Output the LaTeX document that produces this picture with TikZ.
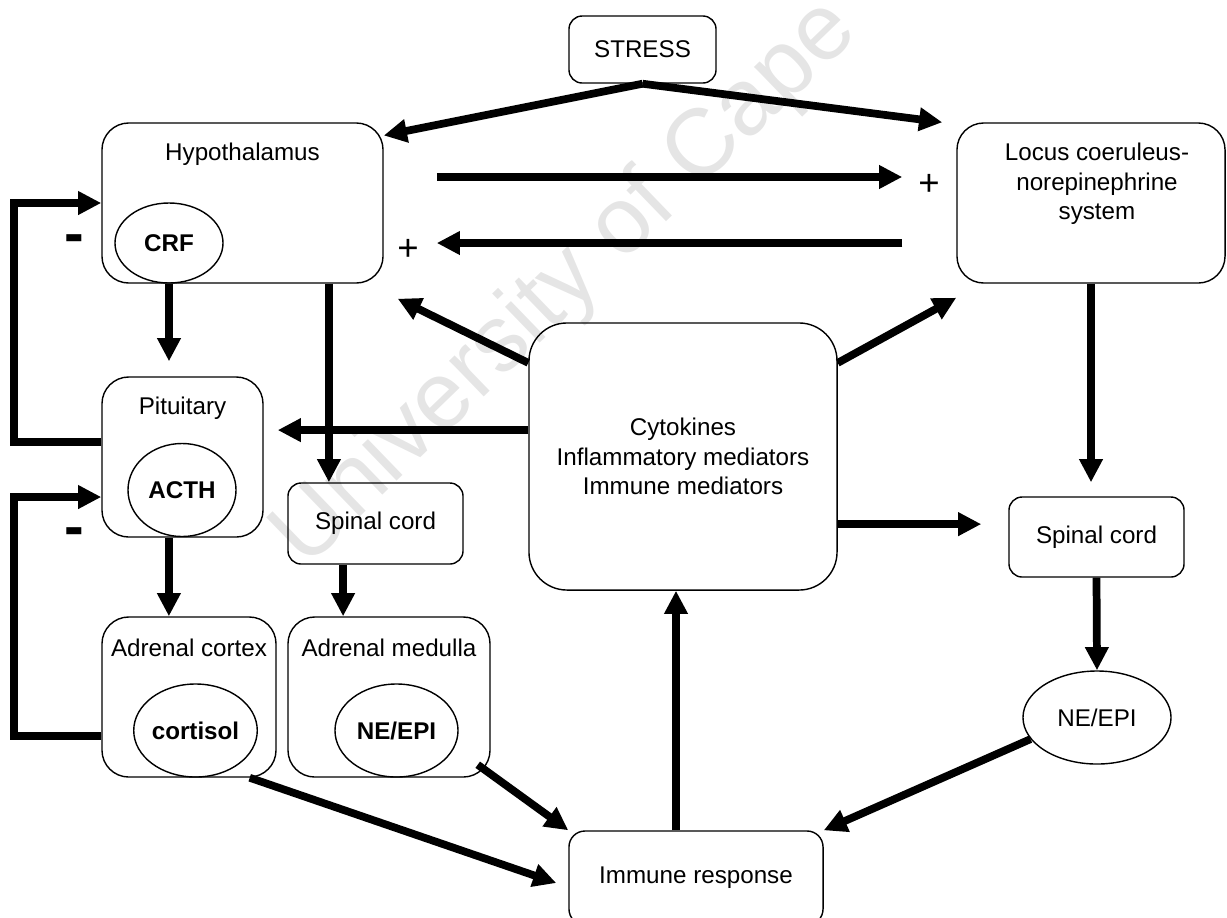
\documentclass[tikz,border=0pt]{standalone}
\usepackage{fontspec}
\setmainfont{Liberation Sans}
\usetikzlibrary{arrows.meta,positioning,shapes.geometric}

\begin{document}
\begin{tikzpicture}[->,>={Triangle[length=0.58cm,width=0.56cm]},line width=5.5pt,
                    x=0.025cm,y=-0.025cm,font=\fontsize{17.2}{21}\selectfont]
  \tikzstyle{box}=[draw,line width=1pt,rounded corners=0.67cm,align=center]
  \tikzstyle{small box}=[box,rounded corners=0.33cm]
  \tikzstyle{blob}=[draw,ellipse,line width=1pt,inner sep=0pt]
  \tikzstyle{hormone}=[blob,font=\fontsize{17.2}{21}\selectfont\bfseries]
  \tikzstyle{plus}=[inner sep=0pt,font=\fontsize{26}{26}\selectfont]
  \tikzstyle{minus}=[inner sep=0pt,font=\fontsize{42}{42}\selectfont\bfseries]

  \useasboundingbox (0,0) rectangle (1227,917);
  \clip (0,0) rectangle (1227,917);

  \node[anchor=base west,rotate=44,text=black!10,font=\fontsize{67}{70}\selectfont]
    (W) at (300,575) {University of Cape};

  % brain
  \node[small box,minimum width=3.675cm,minimum height=1.675cm] (S) at (642.5,49.5) {STRESS};
  \node[box,minimum width=7.025cm,minimum height=4cm] (H) at (242.5,203) {};
  \node at ([yshift=-0.8cm]H.north) {Hypothalamus};
  \node[hormone,minimum width=2.7cm,minimum height=2cm] (CRF) at (169,243) {CRF};
  \node[box,minimum width=6.7cm,minimum height=4cm] (LC) at (1091,203) {};
  \node[align=center] at ([shift={(0.15cm,0.475cm)}]LC.center)
    {Locus coeruleus-\\norepinephrine\\system};

  % HPA side
  \node[box,minimum width=4.025cm,minimum height=4cm] (P) at (182.5,457) {};
  \node at ([yshift=-0.8cm]P.north) {Pituitary};
  \node[hormone,minimum width=2.7cm,minimum height=2.325cm] (ACTH) at (182,490) {ACTH};
  \node[small box,minimum width=4.375cm,minimum height=2.025cm] (SC1) at (375.5,523.5) {Spinal cord};
  \node[box,minimum width=4.35cm,minimum height=4cm] (AC) at (189,697) {};
  \node at ([yshift=-0.8cm]AC.north) {Adrenal cortex};
  \node[hormone,minimum width=2.675cm,minimum height=2.325cm] (COR) at (195.5,730.5) {cortisol};
  \node[box,minimum width=5.05cm,minimum height=4cm] (AM) at (389,697) {};
  \node at ([yshift=-0.8cm]AM.north) {Adrenal medulla};
  \node[hormone,minimum width=3.075cm,minimum height=2.325cm] (NE1) at (396.5,730.5) {NE/EPI};

  % immune side
  \node[box,rounded corners=0.95cm,minimum width=7.7cm,minimum height=6.675cm] (CY) at (683,456.5)
    {Cytokines\\Inflammatory mediators\\Immune mediators};
  \node[small box,minimum width=4.375cm,minimum height=2cm] (SC2) at (1096.5,537) {Spinal cord};
  \node[blob,minimum width=3.7cm,minimum height=2.325cm] (NE2) at (1097,717.5) {NE/EPI};
  \node[small box,rounded corners=0.4cm,minimum width=6.35cm,minimum height=2.35cm] (IR) at (696,878)
    {Immune response};

  \node[plus] (PL1) at (929,185) {+};
  \node[plus] (PL2) at (408,250) {+};
  \node[minus] (MI1) at (74,244) {-};
  \node[minus] (MI2) at (74,537) {-};

  \draw (S.south) -- ([yshift=-0.33cm]H.north east);
  \draw (S.south) -- ([xshift=-0.35cm]LC.north west);
  \draw[shorten <=1.325cm,shorten >=1.35cm] ([yshift=0.65cm]H.east) -- ([yshift=0.65cm]LC.west);
  \draw[shorten <=1.35cm,shorten >=1.325cm] ([yshift=-1cm]LC.west) -- ([yshift=-1cm]H.east);
  \draw ([yshift=2.34cm]CY.west) -- ([shift={(0.35cm,-0.375cm)}]H.south east);
  \draw ([yshift=2.34cm]CY.east) -- ([yshift=-0.35cm]LC.south west);
  \draw[shorten >=0.35cm] ([yshift=0.66cm]CY.west) -- ([yshift=0.66cm]CY.west -| P.east);

  \draw[shorten >=0.375cm] (CRF.south) -- (CRF.south |- P.north);
  \draw ([xshift=2.16cm]H.south) -- ([xshift=2.16cm]H.south |- SC1.north);
  \draw ([xshift=-0.34cm]P.south) -- ([xshift=-0.34cm]P.south |- AC.north);
  \draw ([xshift=-0.81cm]SC1.south) -- ([xshift=-0.81cm]SC1.south |- AM.north);
  \draw ([yshift=0.375cm]P.west) -- ++(-2.175cm,0) |- (H.west);
  \draw ([yshift=-0.975cm]AC.west) -- ++(-2.175cm,0) |- ([yshift=-1cm]P.west);

  \draw ([xshift=-0.675cm]AC.south east) -- ([shift={(-0.3cm,-0.125cm)}]IR.west);
  \draw ([shift={(-0.325cm,0.325cm)}]AM.south east) -- (IR.north west);
  \draw ([xshift=-0.5cm]IR.north) -- ([xshift=-0.5cm]IR.north |- CY.south);
  \draw[shorten >=0.675cm] ([yshift=-1.69cm]CY.east) -- ([yshift=-1.69cm]CY.east -| SC2.west);
  \draw[shorten >=0.35cm] (LC.south) -- (LC.south |- SC2.north);
  \draw (SC2.south) -- (NE2.north);
  \draw (NE2.198) -- (IR.north east);
\end{tikzpicture}
\end{document}
